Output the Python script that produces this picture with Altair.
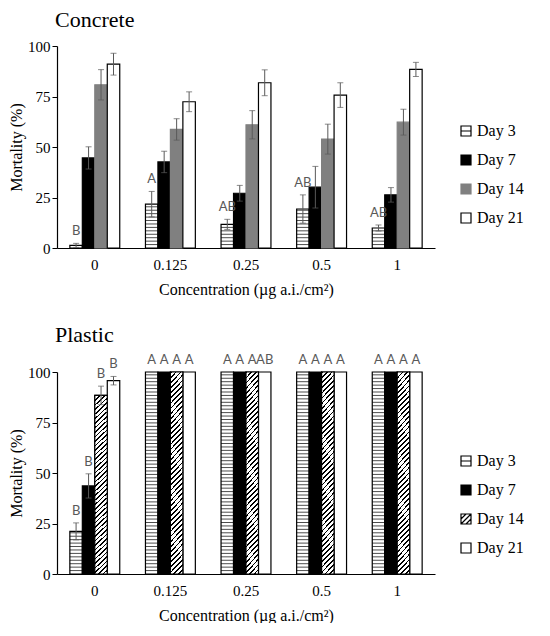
import altair as alt
import pandas as pd

concs = ["0", "0.125", "0.25", "0.5", "1"]
days = ["Day 3", "Day 7", "Day 14", "Day 21"]

# Concrete
con_d3 = [1.3, 21.7, 11.7, 19.3, 9.9]
con_d3_err = [1.0, 6.3, 2.5, 7.0, 1.5]
con_d7 = [44.6, 42.6, 27.1, 30.1, 26.3]
con_d7_err = [5.5, 5.3, 3.9, 10.3, 3.6]
con_d14 = [80.8, 58.7, 61.0, 53.9, 62.3]
con_d14_err = [7.5, 5.3, 7.0, 7.4, 6.4]
con_d21 = [91.0, 72.4, 81.8, 75.7, 88.4]
con_d21_err = [5.4, 4.9, 6.4, 6.1, 3.5]
con_d3_letters = ["B", "A", "AB", "AB", "AB"]
con_d7_letters = ["", "", "", "", ""]
con_d14_letters = ["", "", "", "", ""]
con_d21_letters = ["", "", "", "", ""]

# Plastic
pla_d3 = [21.1, 100, 100, 100, 100]
pla_d3_err = [4.2, 0, 0, 0, 0]
pla_d7 = [43.6, 100, 100, 100, 100]
pla_d7_err = [6.0, 0, 0, 0, 0]
pla_d14 = [88.4, 100, 100, 100, 100]
pla_d14_err = [4.6, 0, 0, 0, 0]
pla_d21 = [95.7, 100, 100, 100, 100]
pla_d21_err = [2.1, 0, 0, 0, 0]
pla_d3_letters = ["B", "A", "A", "A", "A"]
pla_d7_letters = ["B", "A", "A", "A", "A"]
pla_d14_letters = ["B", "A", "A", "A", "A"]
pla_d21_letters = ["B", "A", "AB", "A", "A"]


def build(vals, errs, letters):
    rows = []
    for d, v, e, l in zip(days, vals, errs, letters):
        for c, vv, ee, ll in zip(concs, v, e, l):
            rows.append({"conc": c, "day": d, "value": vv, "err": ee, "letter": ll})
    return pd.DataFrame(rows)


con_df = build([con_d3, con_d7, con_d14, con_d21],
               [con_d3_err, con_d7_err, con_d14_err, con_d21_err],
               [con_d3_letters, con_d7_letters, con_d14_letters, con_d21_letters])
pla_df = build([pla_d3, pla_d7, pla_d14, pla_d21],
               [pla_d3_err, pla_d7_err, pla_d14_err, pla_d21_err],
               [pla_d3_letters, pla_d7_letters, pla_d14_letters, pla_d21_letters])

SERIF = "Liberation Serif"
W, H = 378, 202
BAR_W = 12.47
ERR_COLOR = "#595959"

SQ = "M-1,-1H1V1H-1Z"
SQ_STRIPE = "M-1,-1H1V1H-1Z M-1,0H1"
SQ_HATCH = "M-1,-1H1V1H-1Z M-1,1L1,-1 M-1,0L0,-1 M0,1L1,0"

# diagonal hatch gradient stops
stops = []
n = 42
for i in range(n):
    a = i / n
    b = (i + 0.35) / n
    c = (i + 1) / n
    stops += [alt.GradientStop(color="black", offset=a),
              alt.GradientStop(color="black", offset=b),
              alt.GradientStop(color="white", offset=b),
              alt.GradientStop(color="white", offset=c)]
hatch = alt.LinearGradient(gradient="linear", stops=stops, x1=0, y1=0, x2=0.07, y2=1.06)


def panel(df, title, fills, strokes, shapes, legend_y, hatched):
    x = alt.X("conc:N", sort=concs,
              scale=alt.Scale(domain=concs, paddingInner=0.34, paddingOuter=0.17),
              axis=alt.Axis(title="Concentration (µg a.i./cm²)", labelAngle=0, ticks=False,
                            labelPadding=9, titlePadding=9,
                            labelFont=SERIF, titleFont=SERIF, labelFontSize=15,
                            titleFontSize=16, titleFontWeight="normal"))
    xo = alt.XOffset("day:N", sort=days, scale=alt.Scale(domain=days, paddingInner=0, paddingOuter=0))
    yscale = alt.Scale(domain=[0, 100])
    yaxis = alt.Axis(values=[0, 25, 50, 75, 100], title="Mortality (%)", grid=False,
                     tickSize=5, labelPadding=2, titlePadding=3,
                     labelFont=SERIF, titleFont=SERIF, labelFontSize=15,
                     titleFontSize=16, titleFontWeight="normal")

    def Y(field):
        return alt.Y(field, type="quantitative", scale=yscale, axis=yaxis, title="Mortality (%)")

    leg = alt.Legend(title=None, orient="none", legendX=401, legendY=legend_y,
                     symbolSize=100, symbolStrokeWidth=1.2, symbolOpacity=1,
                     labelFont=SERIF, labelFontSize=16, labelColor="black",
                     rowPadding=13, labelOffset=3)
    fill = alt.Fill("day:N", sort=days, scale=alt.Scale(domain=days, range=fills), legend=leg)
    stroke = alt.Stroke("day:N", sort=days, scale=alt.Scale(domain=days, range=strokes), legend=leg)
    shape = alt.Shape("day:N", sort=days, scale=alt.Scale(domain=days, range=shapes), legend=leg)

    base = alt.Chart(df)
    bars = base.mark_bar(strokeWidth=1.2).encode(x=x, xOffset=xo, y=Y("value"), fill=fill, stroke=stroke)
    layers = [bars]
    if hatched:
        hb = base.transform_filter("datum.day == 'Day 14'").mark_bar(
            fill=hatch, stroke="black", strokeWidth=1.2).encode(x=x, xOffset=xo, y=Y("value"))
        layers.append(hb)
    stripes = base.transform_filter("datum.day == 'Day 3'").transform_calculate(
        s="sequence(1.7, datum.value, 1.7)").transform_flatten(["s"]).mark_tick(
        orient="horizontal", size=BAR_W, thickness=1, color="black").encode(
        x=x, xOffset=xo, y=Y("s"))
    layers.append(stripes)
    eb = base.transform_filter("datum.err > 0").transform_calculate(
        lo="datum.value - datum.err", hi="datum.value + datum.err")
    rules = eb.mark_rule(color=ERR_COLOR, strokeWidth=1).encode(
        x=x, xOffset=xo, y=Y("lo"), y2="hi:Q")
    caps = eb.transform_fold(["lo", "hi"], as_=["k", "v"]).mark_tick(
        orient="horizontal", size=6, thickness=1, color=ERR_COLOR).encode(
        x=x, xOffset=xo, y=Y("v"))
    layers += [rules, caps]
    text = base.transform_filter("datum.letter != ''").transform_calculate(
        top="datum.value + datum.err").mark_text(
        font="Lato", fontSize=13, color=ERR_COLOR, baseline="bottom", dy=-5).encode(
        x=x, xOffset=xo, y=Y("top"), text="letter:N")
    layers.append(text)
    pts = base.mark_point(filled=True, opacity=0, strokeWidth=1.2).encode(
        x=x, xOffset=xo, y=Y("value"), fill=fill, stroke=stroke, shape=shape)
    layers.append(pts)
    return alt.layer(*layers).properties(
        width=W, height=H,
        title=alt.TitleParams(title, anchor="start", frame="group", font=SERIF, fontSize=22,
                              fontWeight="normal", color="black", dx=-2, offset=7))


top = panel(con_df, "Concrete", ["white", "black", "#808080", "white"],
            ["black", "black", "#808080", "black"], [SQ_STRIPE, SQ, SQ, SQ], 77, False)
bottom = panel(pla_df, "Plastic", ["white", "black", "white", "white"],
               ["black", "black", "black", "black"], [SQ_STRIPE, SQ, SQ_HATCH, SQ], 81, True)

chart = alt.vconcat(top, bottom, spacing=27).resolve_scale(
    fill="independent", stroke="independent", shape="independent",
    x="independent", y="independent", xOffset="independent").resolve_legend(
    fill="independent", stroke="independent", shape="independent").properties(
    padding={"left": 0, "top": 1, "right": 0, "bottom": 0}).configure_view(stroke=None).configure_axis(
    domainColor="black", tickColor="black", labelColor="black", titleColor="black",
    labelFont=SERIF, titleFont=SERIF, labelFontSize=15, titleFontSize=16,
    titleFontWeight="normal", domainWidth=1.2)

chart.save("out.html", embed_options={"renderer": "svg", "actions": False})
